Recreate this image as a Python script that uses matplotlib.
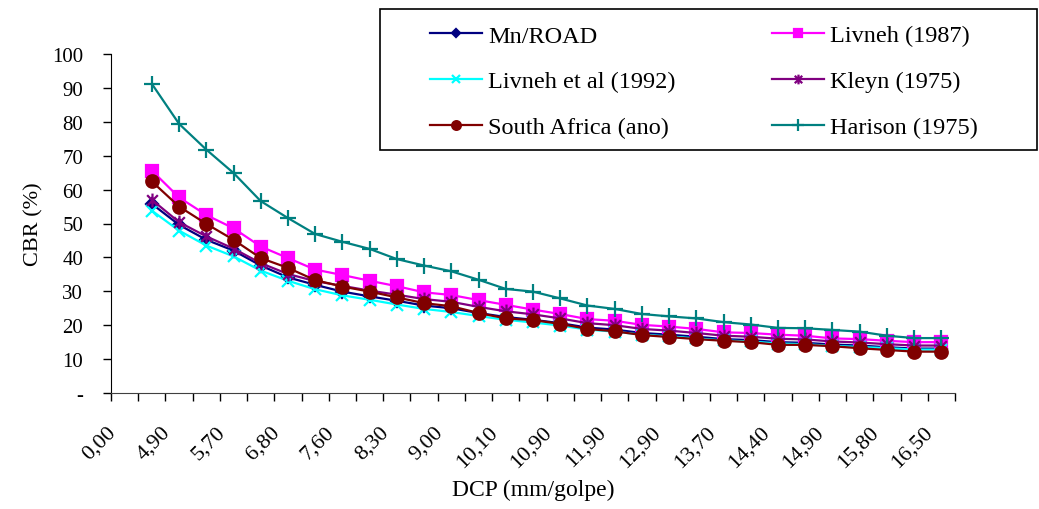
import matplotlib
matplotlib.use("Agg")
import matplotlib.pyplot as plt
import matplotlib.transforms as mtransforms
from matplotlib.patches import Rectangle
from matplotlib.path import Path

# category axis: 31 DCP classes, labels shown on every other one
x_labels = ["0,00", "4,90", "5,70", "6,80", "7,60", "8,30", "9,00", "10,10",
            "10,90", "11,90", "12,90", "13,70", "14,40", "14,90", "15,80", "16,50"]
n_categories = 31

# CBR (%) per series, categories 1..30 (category 0 is empty)
mn_road = [55.8, 49.6, 45.2, 42.0, 37.6, 34.1, 31.9, 29.9, 28.5, 27.2,
           25.8, 25.0, 23.6, 22.4, 21.6, 20.6, 19.3, 18.7, 17.7, 17.2,
           16.6, 15.9, 15.6, 15.0, 14.8, 14.3, 14.0, 13.5, 13.1, 13.1]
livneh_1987 = [65.6, 57.7, 52.5, 48.6, 43.2, 39.8, 36.4, 34.8, 33.1, 31.5,
               29.7, 28.9, 27.4, 26.0, 24.6, 23.3, 21.8, 21.3, 20.1, 19.6,
               18.9, 17.9, 17.7, 17.2, 16.9, 16.1, 15.9, 15.4, 15.0, 15.0]
livneh_1992 = [53.8, 47.9, 43.5, 40.3, 36.1, 33.1, 30.6, 28.8, 27.5, 26.1,
               24.8, 23.9, 22.7, 21.6, 20.8, 19.9, 18.7, 18.1, 17.2, 16.7,
               16.1, 15.5, 15.2, 14.6, 14.4, 13.9, 13.6, 13.2, 12.8, 12.8]
kleyn = [57.0, 50.4, 46.2, 42.6, 38.3, 35.1, 33.0, 31.6, 30.2, 29.0,
         27.7, 26.9, 25.4, 24.1, 23.2, 22.0, 20.6, 20.0, 18.9, 18.4,
         17.7, 16.9, 16.6, 16.0, 15.8, 15.2, 14.9, 14.4, 14.0, 14.0]
south_africa = [62.4, 55.0, 49.9, 45.2, 39.8, 36.9, 33.3, 31.4, 29.9, 28.2,
                26.5, 25.6, 23.6, 22.0, 21.5, 20.4, 18.9, 18.2, 17.1, 16.5,
                15.9, 15.4, 15.0, 14.2, 14.2, 13.8, 13.2, 12.7, 12.2, 12.2]
harison = [91.2, 79.4, 71.8, 64.9, 56.6, 51.6, 46.9, 44.6, 42.5, 39.5,
           37.6, 35.9, 33.4, 30.7, 29.9, 27.9, 25.8, 24.8, 23.3, 22.6,
           22.0, 20.9, 20.2, 19.2, 19.1, 18.6, 18.1, 16.9, 16.2, 16.2]

plt.rcParams["font.family"] = ["Liberation Serif", "DejaVu Serif"]

# Excel-style asterisk: an x with a vertical bar
asterisk = Path([(-1, -1), (1, 1), (-1, 1), (1, -1), (0, -1.3), (0, 1.3)],
                [Path.MOVETO, Path.LINETO, Path.MOVETO, Path.LINETO,
                 Path.MOVETO, Path.LINETO])

series = [
    ("Mn/ROAD", mn_road, "#000080", "D", 6),
    ("Livneh (1987)", livneh_1987, "#FF00FF", "s", 8),
    ("Livneh et al (1992)", livneh_1992, "#00FFFF", "x", 9),
    ("Kleyn (1975)", kleyn, "#800080", asterisk, 10),
    ("South Africa (ano)", south_africa, "#800000", "o", 9),
    ("Harison (1975)", harison, "#008080", "+", 12),
]

W, H = 1039, 510
fig = plt.figure(figsize=(W / 100, H / 100), dpi=100)
ax = fig.add_axes([111 / W, 1 - 394 / H, (955 - 111) / W, (394 - 55) / H])

handles = {}
for name, values, color, marker, size in series:
    xs = [k + 1.5 for k in range(len(values))]
    (line,) = ax.plot(xs, values, color=color, lw=1.6, marker=marker,
                      markersize=size, markeredgewidth=1.6,
                      markerfacecolor=color, markeredgecolor=color, label=name)
    handles[name] = line

ax.set_xlim(0, n_categories)
ax.set_ylim(0, 100)

# tick marks on category borders, labels on every other category centre
ax.set_xticks(range(n_categories + 1), minor=True)
ax.set_xticks([2 * i + 0.5 for i in range(len(x_labels))])
ax.set_xticklabels(x_labels, rotation=45, ha="right", rotation_mode="anchor",
                   fontsize=16)
ax.tick_params(axis="x", which="major", length=0, pad=21)
ax.tick_params(axis="x", which="minor", length=6, width=1, direction="out")
shift = mtransforms.ScaledTranslation(-18 / 100, 0, fig.dpi_scale_trans)
for lbl in ax.get_xticklabels():
    lbl.set_transform(lbl.get_transform() + shift)

ax.set_yticks(range(0, 101, 10))
ax.set_yticklabels(["-"] + [str(v) for v in range(10, 101, 10)], fontsize=15)
ax.tick_params(axis="y", length=6, width=1, direction="out", pad=14)

for side in ("top", "right"):
    ax.spines[side].set_visible(False)
ax.spines["left"].set_color("black")
ax.spines["bottom"].set_color("#404040")

ax.set_ylabel("CBR (%)", fontsize=16, labelpad=6)
ax.set_xlabel("DCP (mm/golpe)", fontsize=17, labelpad=6)

# legend frame drawn on its own so the entries keep Excel's spacing
fig.patches.append(Rectangle((380 / W, 1 - 151 / H), 657 / W, 141 / H,
                             transform=fig.transFigure, fill=False,
                             edgecolor="black", linewidth=1.2))
order = ["Mn/ROAD", "Livneh et al (1992)", "South Africa (ano)",
         "Livneh (1987)", "Kleyn (1975)", "Harison (1975)"]
fig.legend([handles[n] for n in order], order, ncol=2, loc="upper left",
           bbox_to_anchor=(430 / W, 1 - 25.5 / H), borderaxespad=0,
           borderpad=0, frameon=False, fontsize=17.5, handlelength=2.14,
           handletextpad=0.25, labelspacing=0.98, markerscale=0.7,
           columnspacing=3.95)

fig.savefig("out.png", dpi=100)
